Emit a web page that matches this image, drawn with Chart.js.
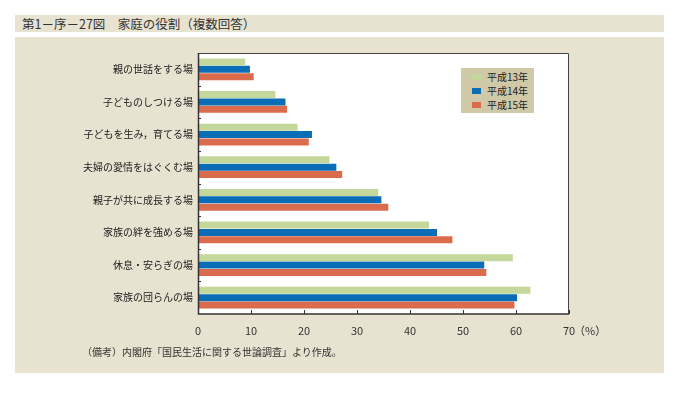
<!DOCTYPE html>
<html>
<head>
<meta charset="utf-8">
<script src="https://cdn.jsdelivr.net/npm/chart.js@4/dist/chart.umd.min.js"></script>
<style>
  body { margin: 0; background: #fff; font-family: "Noto Sans CJK JP", sans-serif; }
  #page { position: relative; width: 679px; height: 393px; overflow: hidden; }
  #head { position: absolute; left: 15px; top: 15px; width: 649px; height: 17px; background: #e8e2d1;
          font-size: 12.5px; line-height: 17px; color: #333; padding-left: 7px; box-sizing: border-box; }
  #panel { position: absolute; left: 15px; top: 37px; width: 649px; height: 336px; background: #e8e2d1; }
  #note { position: absolute; left: 82px; top: 344px; font-size: 10px; color: #333; white-space: nowrap; }
  #legend { position: absolute; left: 461px; top: 68px; width: 73px; height: 45px; background: #cfc9a8; }
  .li { position: absolute; left: 0; font-size: 10px; color: #222; height: 14px; line-height: 14px; }
  .li span.sw { position: absolute; left: 11px; top: 4px; width: 9px; height: 6px; }
  .li span.tx { position: absolute; left: 26px; top: 0; white-space: nowrap; }
  #wrap { position: absolute; left: 0; top: 0; width: 679px; height: 393px; }
</style>
</head>
<body>
<div id="page">
  <div id="head">第1－序－27図　家庭の役割（複数回答）</div>
  <div id="panel"></div>
  <div id="wrap"><canvas id="chart"></canvas></div>
  <div id="legend"></div>
  <div id="note">（備考）内閣府「国民生活に関する世論調査」より作成。</div>
</div>
<script>
// categories, top to bottom
const labels = [
  '親の世話をする場',
  '子どものしつける場',
  '子どもを生み，育てる場',
  '夫婦の愛情をはぐくむ場',
  '親子が共に成長する場',
  '家族の絆を強める場',
  '休息・安らぎの場',
  '家族の団らんの場',
];
const seriesNames = ['平成13年', '平成14年', '平成15年'];
const h13 = [8.9, 14.6, 18.8, 24.8, 34.0, 43.6, 59.4, 62.7];
const h14 = [9.8, 16.5, 21.5, 26.1, 34.6, 45.1, 54.0, 60.2];
const h15 = [10.5, 16.8, 20.9, 27.2, 35.9, 48.0, 54.4, 59.7];
const xTicks = [0, 10, 20, 30, 40, 50, 60, 70];
const colors = ['#c4d89c', '#0b6db6', '#da6b4c'];

const series = [h13, h14, h15];

// legend built from the same names/colours
const legendEl = document.getElementById('legend');
seriesNames.forEach((name, i) => {
  const row = document.createElement('div');
  row.className = 'li';
  row.style.top = (2 + i * 14) + 'px';
  row.innerHTML = '<span class="sw" style="background:' + colors[i] + '"></span><span class="tx">' + name + '</span>';
  legendEl.appendChild(row);
});

const frame = {
  id: 'frame',
  beforeDraw(chart) {
    const {ctx, chartArea: a} = chart;
    ctx.save();
    ctx.fillStyle = '#fff';
    ctx.fillRect(a.left, a.top, a.right - a.left, a.bottom - a.top);
    ctx.restore();
  },
  afterDatasetsDraw(chart) {
    const {ctx, chartArea: a, scales} = chart;
    ctx.save();
    // thin top / right edge
    ctx.strokeStyle = '#444';
    ctx.lineWidth = 1;
    ctx.beginPath();
    ctx.moveTo(a.left, a.top + 0.5);
    ctx.lineTo(a.right - 0.5, a.top + 0.5);
    ctx.lineTo(a.right - 0.5, a.bottom);
    ctx.stroke();
    // axes
    ctx.strokeStyle = '#333';
    ctx.lineWidth = 1.5;
    ctx.beginPath();
    ctx.moveTo(a.left + 0.5, a.top);
    ctx.lineTo(a.left + 0.5, a.bottom);
    ctx.lineTo(a.right, a.bottom);
    ctx.stroke();
    // inward ticks on x axis
    ctx.lineWidth = 1;
    ctx.beginPath();
    xTicks.forEach(v => {
      const x = Math.round(scales.x.getPixelForValue(v)) + 0.5;
      ctx.moveTo(x, a.bottom);
      ctx.lineTo(x, a.bottom - 4);
    });
    // small ticks between categories on y axis
    for (let i = 0; i < labels.length - 1; i++) {
      const y = Math.round((scales.y.getPixelForValue(i) + scales.y.getPixelForValue(i + 1)) / 2) + 0.5;
      ctx.moveTo(a.left, y);
      ctx.lineTo(a.left + 3, y);
    }
    ctx.stroke();
    // unit after last tick
    ctx.fillStyle = '#333';
    ctx.font = '11px "Noto Sans CJK JP"';
    ctx.textBaseline = 'middle';
    ctx.textAlign = 'left';
    ctx.fillText('（%）', scales.x.getPixelForValue(70) + 5, a.bottom + 17);
    ctx.restore();
  }
};

new Chart(document.getElementById('chart'), {
  type: 'bar',
  data: {
    labels: labels,
    datasets: series.map((d, i) => ({
      label: seriesNames[i],
      data: d,
      backgroundColor: colors[i],
      borderWidth: 0,
      barPercentage: 0.94,
      categoryPercentage: 0.68,
    })),
  },
  options: {
    indexAxis: 'y',
    responsive: true,
    maintainAspectRatio: false,
    animation: false,
    layout: {padding: {left: 0, top: 53, right: 110, bottom: 0}},
    plugins: {legend: {display: false}, tooltip: {enabled: false}},
    scales: {
      x: {
        min: 0, max: 70,
        ticks: {stepSize: 10, padding: 10, color: '#333', font: {size: 11, family: '"Noto Sans CJK JP"'}},
        grid: {display: false, drawTicks: false, tickLength: 0},
        border: {display: false},
        afterFit(s) { s.height = 79; },
      },
      y: {
        ticks: {padding: 5, color: '#222', font: {size: 10, family: '"Noto Sans CJK JP"'}},
        grid: {display: false, drawTicks: false, tickLength: 0},
        border: {display: false},
        afterFit(s) { s.width = 198; },
      },
    },
  },
  plugins: [frame],
});
</script>
</body>
</html>
